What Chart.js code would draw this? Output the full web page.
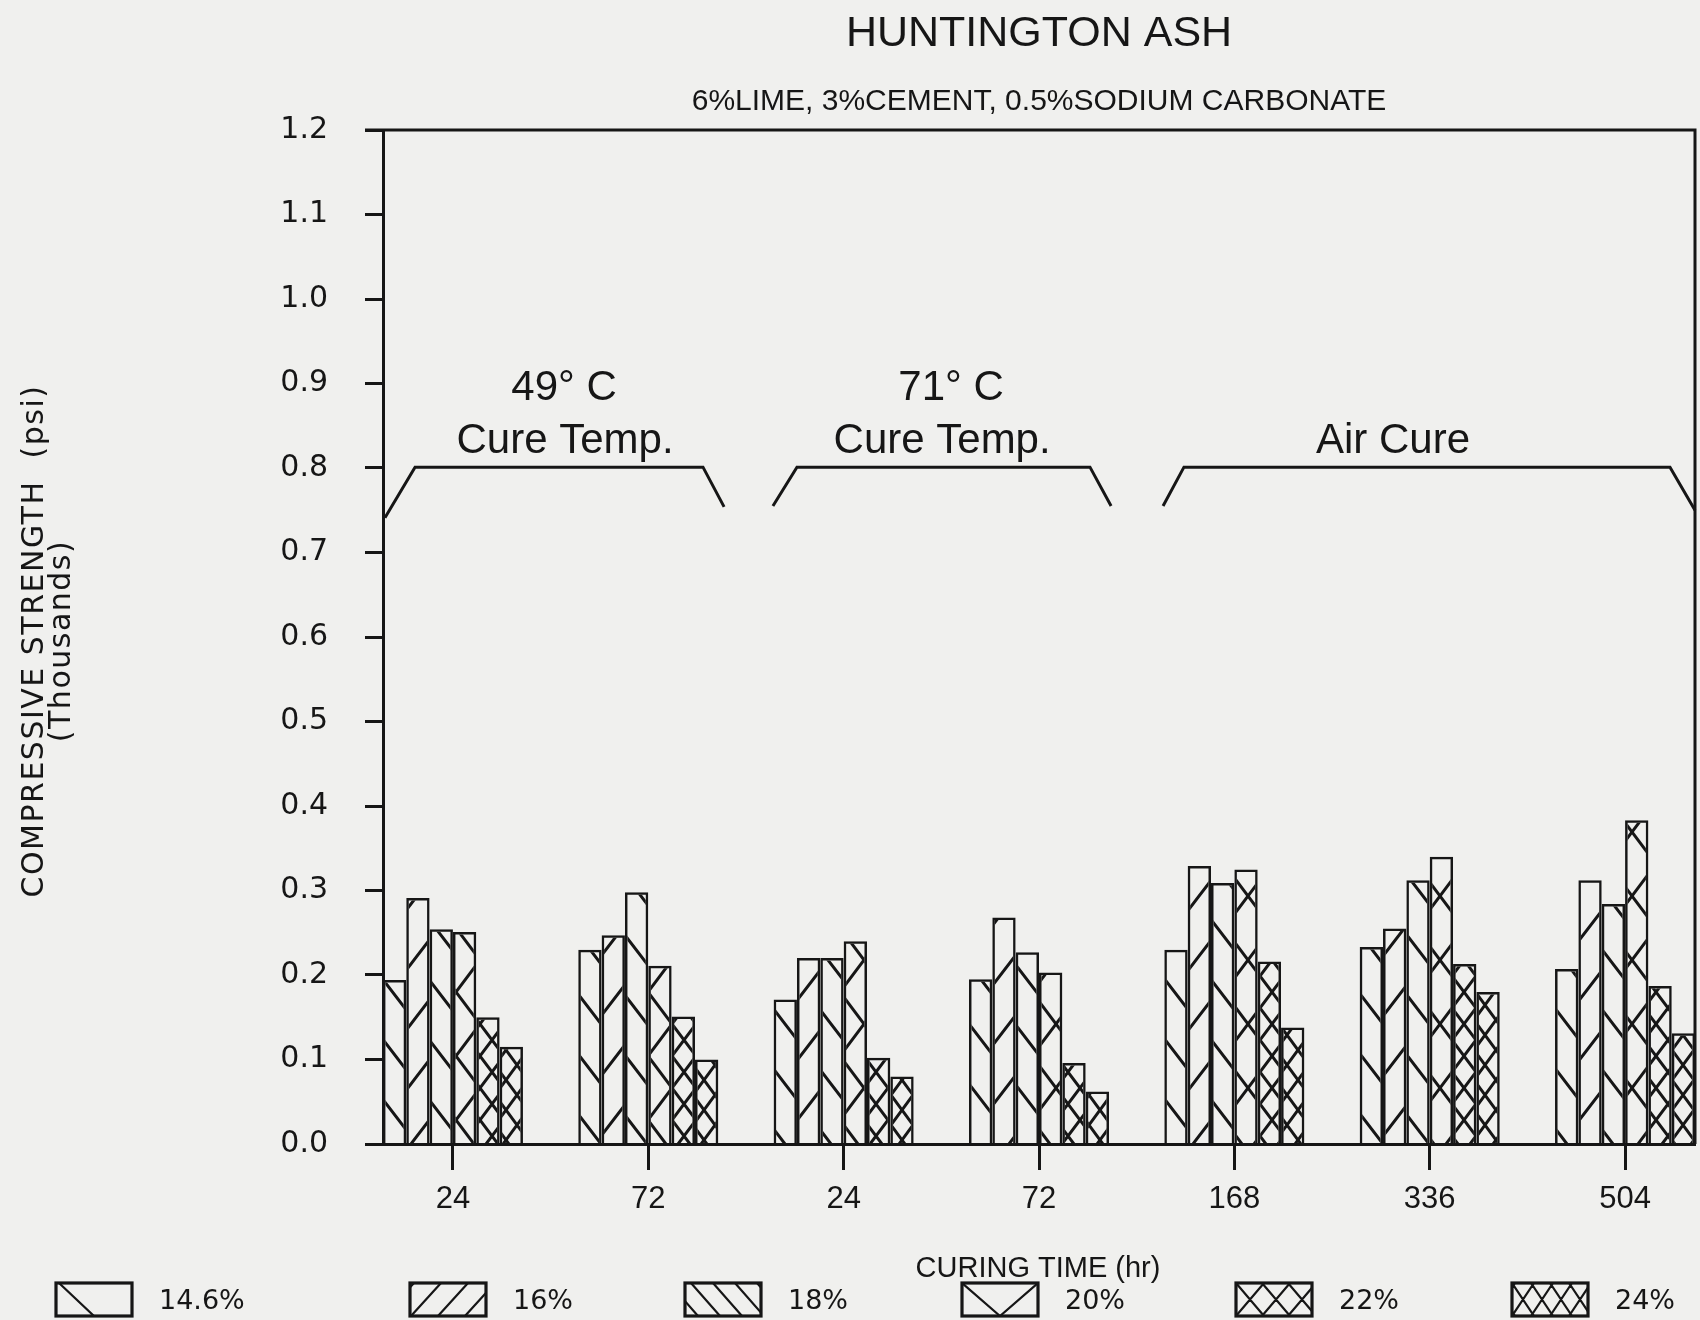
<!DOCTYPE html>
<html>
<head>
<meta charset="utf-8">
<title>Huntington Ash</title>
<script src="https://cdn.jsdelivr.net/npm/chart.js@4.4.1/dist/chart.umd.min.js"></script>
<style>
  html, body { margin: 0; padding: 0; background: #f0f0ee; }
</style>
</head>
<body>
<canvas id="ash-chart" width="1700" height="1320"></canvas>
<script>
// ─── DATA ─────────────────────────────────────────
const curingTimes = ['24', '72', '24', '72', '168', '336', '504'];
const moistureLabels = ['14.6%', '16%', '18%', '20%', '22%', '24%'];
const strength146 = [0.194, 0.230, 0.171, 0.195, 0.230, 0.233, 0.207];
const strength16  = [0.291, 0.247, 0.220, 0.268, 0.329, 0.255, 0.312];
const strength18  = [0.254, 0.298, 0.220, 0.227, 0.309, 0.312, 0.284];
const strength20  = [0.251, 0.211, 0.240, 0.203, 0.325, 0.340, 0.383];
const strength22  = [0.150, 0.151, 0.102, 0.096, 0.216, 0.213, 0.187];
const strength24  = [0.115, 0.100, 0.080, 0.062, 0.138, 0.180, 0.131];
const strengthTicks = ['0.0', '0.1', '0.2', '0.3', '0.4', '0.5', '0.6',
                       '0.7', '0.8', '0.9', '1.0', '1.1', '1.2'];

// ─── STYLE ────────────────────────────────────────
const INK = '#161616';
const PAPER = '#f0f0ee';
const SANS = '"Liberation Sans", Arial, sans-serif';
const ROUND = '"DejaVu Sans", Verdana, sans-serif';

const canvas = document.getElementById('ash-chart');
const ctx = canvas.getContext('2d');

// diagonal hatch tile: '\\' runs down-right, '/' runs up-right
function hatch(dirs, h, w) {
    const tile = document.createElement('canvas');
    tile.width = w; tile.height = h;
    const g = tile.getContext('2d');
    g.strokeStyle = INK;
    g.lineWidth = 3;
    g.beginPath();
    for (let k = -1; k <= 1; k++) {
        if (dirs.includes('\\')) { g.moveTo(k * w - w, -h); g.lineTo(k * w + 2 * w, 2 * h); }
        if (dirs.includes('/'))  { g.moveTo(k * w - w, 2 * h); g.lineTo(k * w + 2 * w, -h); }
    }
    g.stroke();
    return ctx.createPattern(tile, 'repeat');
}

const fills = [
    hatch('\\', 60, 46),
    hatch('/', 60, 46),
    hatch('\\', 60, 46),
    hatch('\\/', 64, 48),
    hatch('\\/', 32, 24),
    hatch('\\/', 30, 22),
];

// legend swatch line families: offset, spacing and horizontal run inside the box
const legendHatch = [
    [{ dir: '\\', phase: 3, period: 999, run: 35 }],
    [{ dir: '/', phase: 1, period: 27, run: 30 }],
    [{ dir: '\\', phase: 6, period: 22, run: 29 }],
    [{ dir: '\\', phase: 0, period: 999, run: 38 }, { dir: '/', phase: 38, period: 999, run: 38 }],
    [{ dir: '\\', phase: 0, period: 26, run: 28 }, { dir: '/', phase: 0, period: 26, run: 28 }],
    [{ dir: '\\', phase: 0, period: 19, run: 22 }, { dir: '/', phase: 0, period: 19, run: 22 }],
];
const legendBoxLeft = [56, 410, 685, 962, 1236, 1512];

// cure regime brackets and captions, in axis units
const cureBrackets = [
    { xs: [-0.348, -0.194, 1.280, 1.388], ys: [0.741, 0.801, 0.801, 0.754],
      captions: [['49° C', 0.569, 0.880], ['Cure Temp.', 0.574, 0.818]] },
    { xs: [1.638, 1.761, 3.261, 3.369], ys: [0.755, 0.801, 0.801, 0.755],
      captions: [['71° C', 2.550, 0.880], ['Cure Temp.', 2.504, 0.818]] },
    { xs: [3.635, 3.742, 6.230, 6.358], ys: [0.755, 0.801, 0.801, 0.750],
      captions: [['Air Cure', 4.812, 0.818]] },
];

const series = [strength146, strength16, strength18, strength20, strength22, strength24];

// ─── PLUGINS ──────────────────────────────────────
const paper = {
    id: 'paper',
    beforeDraw(chart) {
        const c = chart.ctx;
        c.save();
        c.fillStyle = PAPER;
        c.fillRect(0, 0, chart.width, chart.height);
        c.restore();
    }
};

const decor = {
    id: 'decor',
    afterDraw(chart) {
        const c = chart.ctx;
        const a = chart.chartArea;
        const { x, y } = chart.scales;
        c.save();
        c.strokeStyle = INK;
        c.fillStyle = INK;
        c.lineWidth = 3;

        // top and right frame
        c.beginPath();
        c.moveTo(a.left - 18, a.top);
        c.lineTo(a.right, a.top);
        c.lineTo(a.right, a.bottom);
        c.stroke();

        // titles
        const cx = (a.left + a.right) / 2;
        c.textAlign = 'center';
        c.textBaseline = 'alphabetic';
        c.font = '43px ' + SANS;
        c.fillText('HUNTINGTON ASH', cx, 46);
        c.font = '30px ' + SANS;
        c.fillText('6%LIME, 3%CEMENT, 0.5%SODIUM CARBONATE', cx, 110);

        // cure brackets
        cureBrackets.forEach(b => {
            c.beginPath();
            b.xs.forEach((v, i) => {
                const px = x.getPixelForValue(v), py = y.getPixelForValue(b.ys[i]);
                if (i === 0) c.moveTo(px, py); else c.lineTo(px, py);
            });
            c.stroke();
            c.font = '42px ' + SANS;
            b.captions.forEach(([t, vx, vy]) => {
                c.fillText(t, x.getPixelForValue(vx), y.getPixelForValue(vy));
            });
        });

        // x axis title
        c.font = '29px ' + SANS;
        c.fillText('CURING TIME (hr)', 1038, 1277);

        // y axis title, two rotated lines
        [['COMPRESSIVE STRENGTH  (psi)', 43], ['(Thousands)', 70]].forEach(([t, bx]) => {
            c.save();
            c.font = '30px ' + ROUND;
            c.letterSpacing = '1.5px';
            c.translate(bx, 641);
            c.rotate(-Math.PI / 2);
            c.fillText(t, 0, 0);
            c.restore();
        });

        // legend
        const bw = 76, bh = 33, top = 1283;
        moistureLabels.forEach((label, i) => {
            const bx = legendBoxLeft[i];
            c.save();
            c.beginPath();
            c.rect(bx, top, bw, bh);
            c.clip();
            c.lineWidth = 2.2;
            c.beginPath();
            legendHatch[i].forEach(f => {
                for (let o = f.phase - f.period * 4; o < bw; o += f.period) {
                    if (f.dir === '\\') { c.moveTo(bx + o, top); c.lineTo(bx + o + f.run, top + bh); }
                    else { c.moveTo(bx + o, top + bh); c.lineTo(bx + o + f.run, top); }
                }
            });
            c.stroke();
            c.restore();
            c.lineWidth = 3.2;
            c.strokeRect(bx, top, bw, bh);
            c.textAlign = 'left';
            c.font = '27px ' + ROUND;
            c.fillText(label, bx + bw + 27, 1309);
        });
        c.restore();
    }
};

// ─── CHART ────────────────────────────────────────
new Chart(canvas, {
    type: 'bar',
    data: {
        datasets: series.map((vals, i) => ({
            label: moistureLabels[i],
            data: vals.map((v, j) => ({ x: j, y: v })),
            backgroundColor: fills[i],
            borderColor: INK,
            borderWidth: 2.5,
            categoryPercentage: 0.717,
            barPercentage: 1.0,
        }))
    },
    options: {
        responsive: false,
        animation: false,
        events: [],
        layout: { padding: { left: 0, right: 5, top: 130, bottom: 0 } },
        plugins: {
            legend: { display: false },
            tooltip: { enabled: false },
            title: { display: false },
        },
        scales: {
            x: {
                type: 'linear',
                min: -0.358,
                max: 6.358,
                offset: false,
                afterFit: s => { s.height = 176; },
                afterBuildTicks: s => { s.ticks = curingTimes.map((_, i) => ({ value: i })); },
                grid: {
                    offset: false,
                    drawOnChartArea: false,
                    drawTicks: true,
                    tickLength: 26,
                    tickWidth: 3,
                    tickColor: INK,
                    color: INK,
                },
                border: { display: true, color: INK, width: 3 },
                ticks: {
                    color: INK,
                    padding: 11,
                    maxRotation: 0,
                    font: { family: SANS, size: 31 },
                    callback: v => curingTimes[v],
                },
            },
            y: {
                min: 0,
                max: 1.2,
                afterFit: s => { s.width = 383; },
                afterBuildTicks: s => { s.ticks = strengthTicks.map(t => ({ value: parseFloat(t) })); },
                grid: {
                    drawOnChartArea: false,
                    drawTicks: true,
                    tickLength: 18,
                    tickWidth: 3,
                    tickColor: INK,
                    color: INK,
                },
                border: { display: true, color: INK, width: 3 },
                ticks: {
                    color: INK,
                    padding: 37,
                    font: { family: ROUND, size: 30 },
                    callback: v => strengthTicks[Math.round(v * 10)],
                },
            },
        },
    },
    plugins: [paper, decor],
});
</script>
</body>
</html>
